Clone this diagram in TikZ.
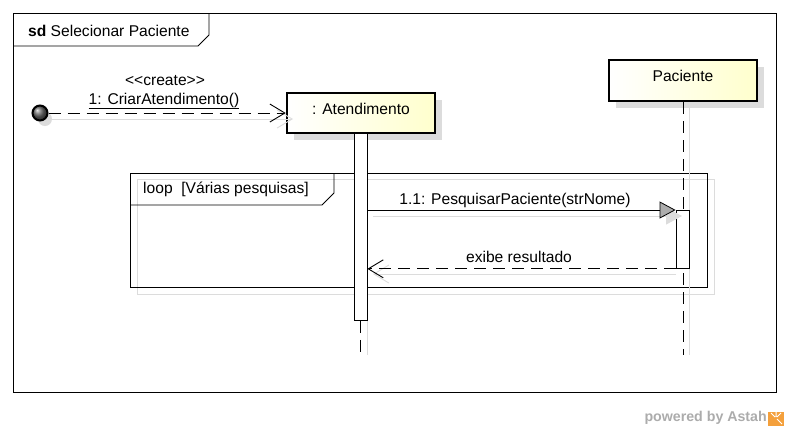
\documentclass[tikz,border=0pt]{standalone}
\usepackage{fontspec}
\setmainfont{Liberation Sans}
\usetikzlibrary{arrows.meta,shapes.geometric}
\definecolor{boxyellow}{RGB}{255,255,205}
\definecolor{shadowgray}{RGB}{220,220,220}
\definecolor{astahgray}{RGB}{172,172,172}
\definecolor{astahorange}{RGB}{244,160,60}
\tikzset{
  txt/.style={font=\fontsize{15.6}{17}\selectfont, inner sep=0pt},
  lifebox/.style={draw, line width=2.5pt, left color=white, right color=boxyellow,
    minimum width=148pt, minimum height=40pt, inner sep=0pt},
  boxshadow/.style={fill=shadowgray, draw=none},
  actbar/.style={draw, fill=white, line width=0.8pt, minimum width=13pt, inner sep=0pt, anchor=north},
  lifeline/.style={line width=0.8pt, dash pattern=on 12pt off 7pt},
  shadowline/.style={draw=shadowgray, line width=1pt},
  msgline/.style={line width=0.8pt},
  retline/.style={line width=0.8pt, dash pattern=on 12pt off 7pt},
  openhead/.style={-{Straight Barb[length=15pt,width=18pt,line width=0.9pt]}},
  filledhead/.style={-{Triangle[length=16pt,width=17pt,fill=gray!65,line width=0.8pt]}},
  shadowfilled/.style={-{Triangle[length=16pt,width=17pt,fill=shadowgray,color=shadowgray]}},
  shadowopen/.style={-{Straight Barb[length=15pt,width=18pt,line width=0.9pt,color=shadowgray]}},
  framepath/.style={draw, line width=0.8pt},
}
\begin{document}
\begin{tikzpicture}[x=1pt,y=-1pt]
\useasboundingbox (0,0) rectangle (789,432);
\fill[white] (0,0) rectangle (789,432);

% main frame
\draw[framepath] (13,13) rectangle (776,392);
\draw[framepath] (13,46) -- (198,46) -- (209,35) -- (209,13);
\node[txt, anchor=west] (title) at (28,31) {\textbf{sd} Selecionar Paciente};

% loop frame shadow
\draw[shadowline] (137,179) rectangle (714,294);
% loop frame
\draw[framepath] (130,173) rectangle (707,287);
\draw[framepath] (130,205) -- (322,205) -- (334,193) -- (334,173);
\node[txt, anchor=west] (looplbl) at (143,189) {loop\ \ [Várias pesquisas]};

% lifeline shadows
\draw[shadowline] (367,133) -- (367,355);
\draw[shadowline] (689,101) -- (689,355);

% box shadows
\fill[boxshadow] (294,100) rectangle (442,140);
\fill[boxshadow] (616,67) rectangle (764,108);

% lifeline boxes
\node[lifebox] (aten) at (361,113) {};
\node[txt] (atenlbl) at (361,109) {: Atendimento};
\node[lifebox, minimum height=41pt] (pac) at (683,80.5) {};
\node[txt] (paclbl) at (683,76) {Paciente};

% lifelines
\coordinate (endA) at (360.5,355);
\coordinate (endP) at (683,355);
\draw[lifeline] (pac.south) -- (endP);

% activation bars
\node[actbar, minimum height=187pt] (actA) at (360.5,133) {};
\draw[lifeline] (actA.south) -- (endA);
\node[actbar, minimum height=58pt] (actP) at (682.5,210) {};

% initial point
\fill[shadowgray] (45,119) circle (7);
\node[circle, draw, line width=2pt, minimum size=15pt, inner sep=0pt, shading=ball, ball color=gray!80!black] (start) at (40,113) {};

% create message
\draw[shadowline, shadowopen] (47,119) -- (293,119);
\draw[retline, openhead] (start) -- (aten.west);
\node[txt] (stereo) at (165,81) {{<}{<}create{>}{>}};
\node[txt] (m1) at (164,101) {\underline{1: CriarAtendimento()}};

% 1.1 message
\draw[shadowline, shadowfilled] (373,216) -- (682,216);
\draw[msgline, filledhead] (actA.east |- actP.north west) -- (actP.north west);
\node[txt] (m11) at (515,200) {1.1: PesquisarPaciente(strNome)};

% return message
\draw[shadowline, shadowopen] (676,274) -- (373,274);
\draw[retline, openhead] (actP.south west) -- (actA.east |- actP.south west);
\node[txt] (ret) at (519,257) {exibe resultado};

% powered by
\node[inner sep=0pt, anchor=east, text=astahgray, font=\bfseries\fontsize{14.2}{16}\selectfont] (powered) at (767,418) {powered by Astah};
\fill[astahorange] (768,412) rectangle (784,426);
\draw[white, line width=1pt] (776,412) -- (776,417) (771,413) -- (775,417) (781,413) -- (777,417) (777,419) -- (782,424);
\end{tikzpicture}
\end{document}
